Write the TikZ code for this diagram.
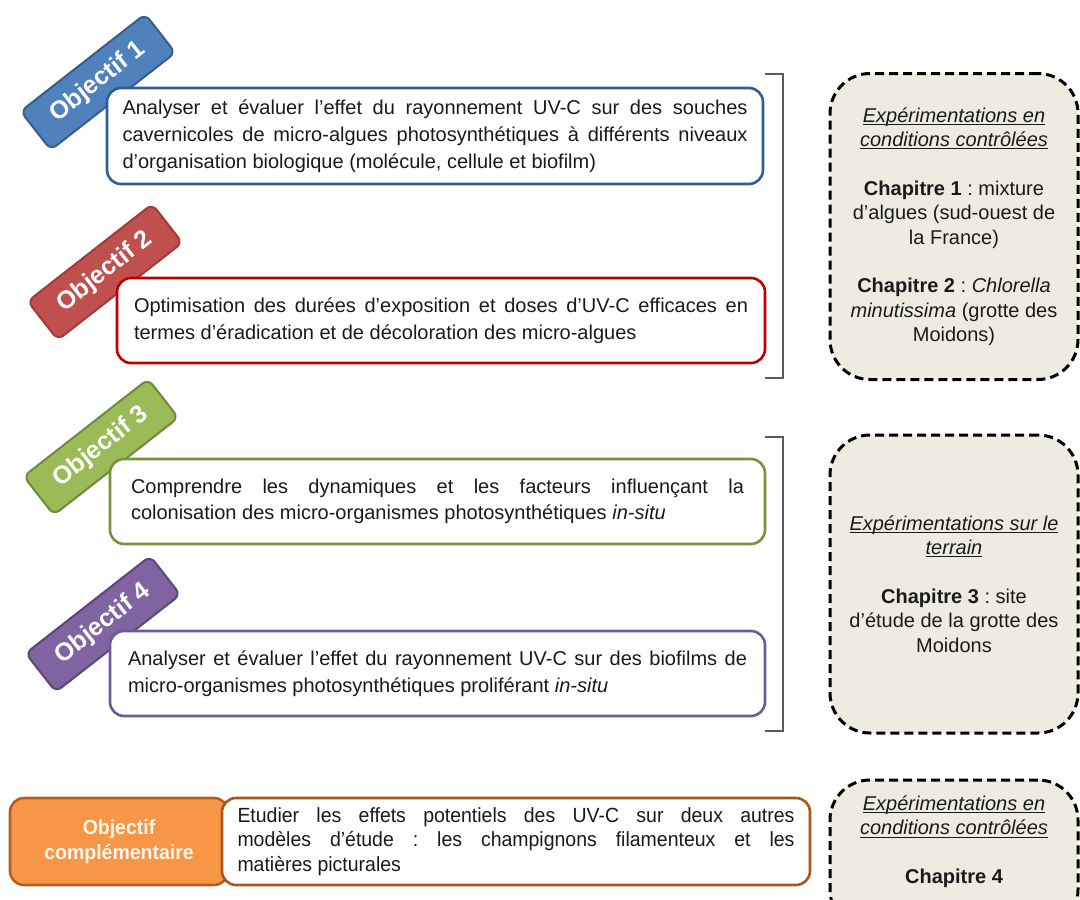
\documentclass[tikz,border=0pt]{standalone}
\usepackage{fontspec}
\setmainfont{Liberation Sans}
\newfontfamily\narrowfont[FakeStretch=0.95]{Liberation Sans}
\definecolor{tagblue}{HTML}{4F81BD}
\definecolor{tagblueb}{HTML}{385D8A}
\definecolor{boxblue}{HTML}{2F5D95}
\definecolor{tagred}{HTML}{C0504D}
\definecolor{tagredb}{HTML}{A33A37}
\definecolor{boxred}{HTML}{C00000}
\definecolor{taggreen}{HTML}{9BBB59}
\definecolor{taggreenb}{HTML}{71893F}
\definecolor{boxgreen}{HTML}{77933C}
\definecolor{tagpurple}{HTML}{8064A2}
\definecolor{tagpurpleb}{HTML}{5C4776}
\definecolor{boxpurple}{HTML}{6E5A98}
\definecolor{tagorange}{HTML}{F79646}
\definecolor{tagorangeb}{HTML}{B0601F}
\definecolor{boxorange}{HTML}{A8561A}
\definecolor{beige}{HTML}{EEECE1}
\definecolor{brackgray}{HTML}{5A5A5A}
\definecolor{txt}{HTML}{1A1A1A}
\newcommand\myul[1]{\setbox0\hbox{#1}\rlap{\rule[-2.6pt]{\wd0}{0.9pt}}\box0}
\hyphenpenalty=10000
\exhyphenpenalty=10000
\frenchspacing
\begin{document}
\begin{tikzpicture}[x=1pt,y=-1pt,
  tagbox/.style={rounded corners=7pt, minimum width=158pt, minimum height=49pt,
    line width=2pt, text=white, inner sep=0pt, rotate=38,
    font=\fontsize{25}{29}\selectfont\bfseries},
  objbox/.style={rounded corners=14pt, line width=2.6pt, fill=white,
    align=justify, inner sep=0pt, text=txt,
    font=\fontsize{20}{26.5}\selectfont},
  expbox/.style={rounded corners=40pt, line width=3pt, dash pattern=on 9pt off 5pt,
    draw=black, fill=beige, minimum width=248pt, inner sep=0pt, align=center,
    text=txt, font=\fontsize{20}{24.5}\selectfont},
  brack/.style={draw=brackgray, line width=1.4pt}]
\useasboundingbox (0,0) rectangle (1080,900);
\clip (0,0) rectangle (1080,900);

% tags
\node[tagbox, fill=tagblue, draw=tagblueb] (t1) at (98,82) {Objectif 1};
\node[tagbox, fill=tagred, draw=tagredb] (t2) at (105,272) {Objectif 2};
\node[tagbox, fill=taggreen, draw=taggreenb] (t3) at (101,447) {Objectif 3};
\node[tagbox, fill=tagpurple, draw=tagpurpleb] (t4) at (103,624) {Objectif 4};

% objective boxes
\node[objbox, draw=boxblue, minimum width=656pt, minimum height=96pt, text width=625pt,
  font=\fontsize{20}{27}\selectfont] (o1) at (435,136)
 {Analyser et évaluer l’effet du rayonnement UV-C sur des souches\linebreak
  cavernicoles de micro-algues photosynthétiques à différents niveaux\linebreak
  d’organisation biologique (molécule, cellule et biofilm)};
\node[objbox, draw=boxred, minimum width=648pt, minimum height=85pt, text width=614pt] (o2) at (441,320.5)
 {Optimisation des durées d’exposition et doses d’UV-C efficaces en\linebreak
  termes d’éradication et de décoloration des micro-algues};
\node[objbox, draw=boxgreen, minimum width=655pt, minimum height=85pt, text width=613pt] (o3) at (437.5,501.5)
 {Comprendre les dynamiques et les facteurs influençant la\linebreak
  colonisation des micro-organismes photosynthétiques \textit{in-situ}};
\node[objbox, draw=boxpurple, minimum width=655pt, minimum height=85pt, text width=619pt] (o4) at (437.5,673.5)
 {Analyser et évaluer l’effet du rayonnement UV-C sur des biofilms de\linebreak
  micro-organismes photosynthétiques proliférant \textit{in-situ}};

% complementary objective
\node[rounded corners=14pt, line width=2.6pt, fill=tagorange, draw=tagorangeb,
  minimum width=218pt, minimum height=87pt, align=center, text=white!92!orange,
  font=\narrowfont\fontsize{20.5}{24.5}\selectfont\bfseries] (oc) at (119,841.5)
 {Objectif\\complémentaire};
\node[objbox, draw=boxorange, minimum width=588pt, minimum height=87pt, text width=557pt,
  font=\narrowfont\fontsize{20.5}{24.8}\selectfont] (o5) at (516,841.5)
 {Etudier les effets potentiels des UV-C sur deux autres\linebreak
  modèles d’étude : les champignons filamenteux et les\linebreak
  matières picturales};

% brackets
\coordinate (b1a) at (765,74); \coordinate (b1b) at (783,74);
\coordinate (b1c) at (783,378); \coordinate (b1d) at (765,378);
\coordinate (b2a) at (765,437); \coordinate (b2b) at (783,437);
\coordinate (b2c) at (783,731); \coordinate (b2d) at (765,731);
\draw[brack] (b1a) -- (b1b) -- (b1c) -- (b1d);
\draw[brack] (b2a) -- (b2b) -- (b2c) -- (b2d);

% experiment boxes
\node[expbox, minimum height=306pt] (e1) at (954,226.5)
 {\myul{\itshape Expérimentations en}\\
  \myul{\itshape conditions contrôlées}\\[24pt]
  \textbf{Chapitre 1} : mixture\\
  d’algues (sud-ouest de\\
  la France)\\[24pt]
  \textbf{Chapitre 2} : \textit{Chlorella}\\
  \textit{minutissima} (grotte des\\
  Moidons)};
\node[expbox, minimum height=298pt] (e2) at (954,584)
 {\myul{\itshape Expérimentations sur le}\\
  \myul{\itshape terrain}\\[24pt]
  \textbf{Chapitre 3} : site\\
  d’étude de la grotte des\\
  Moidons};
\node[expbox, minimum height=150pt] (e3) at (954,855) {};
\node[align=center, text=txt, font=\fontsize{20}{24.5}\selectfont, anchor=north, inner sep=0pt] (e3t) at ([yshift=-17pt]e3.north)
 {\myul{\itshape Expérimentations en}\\
  \myul{\itshape conditions contrôlées}\\[24pt]
  \textbf{Chapitre 4}};
\end{tikzpicture}
\end{document}
